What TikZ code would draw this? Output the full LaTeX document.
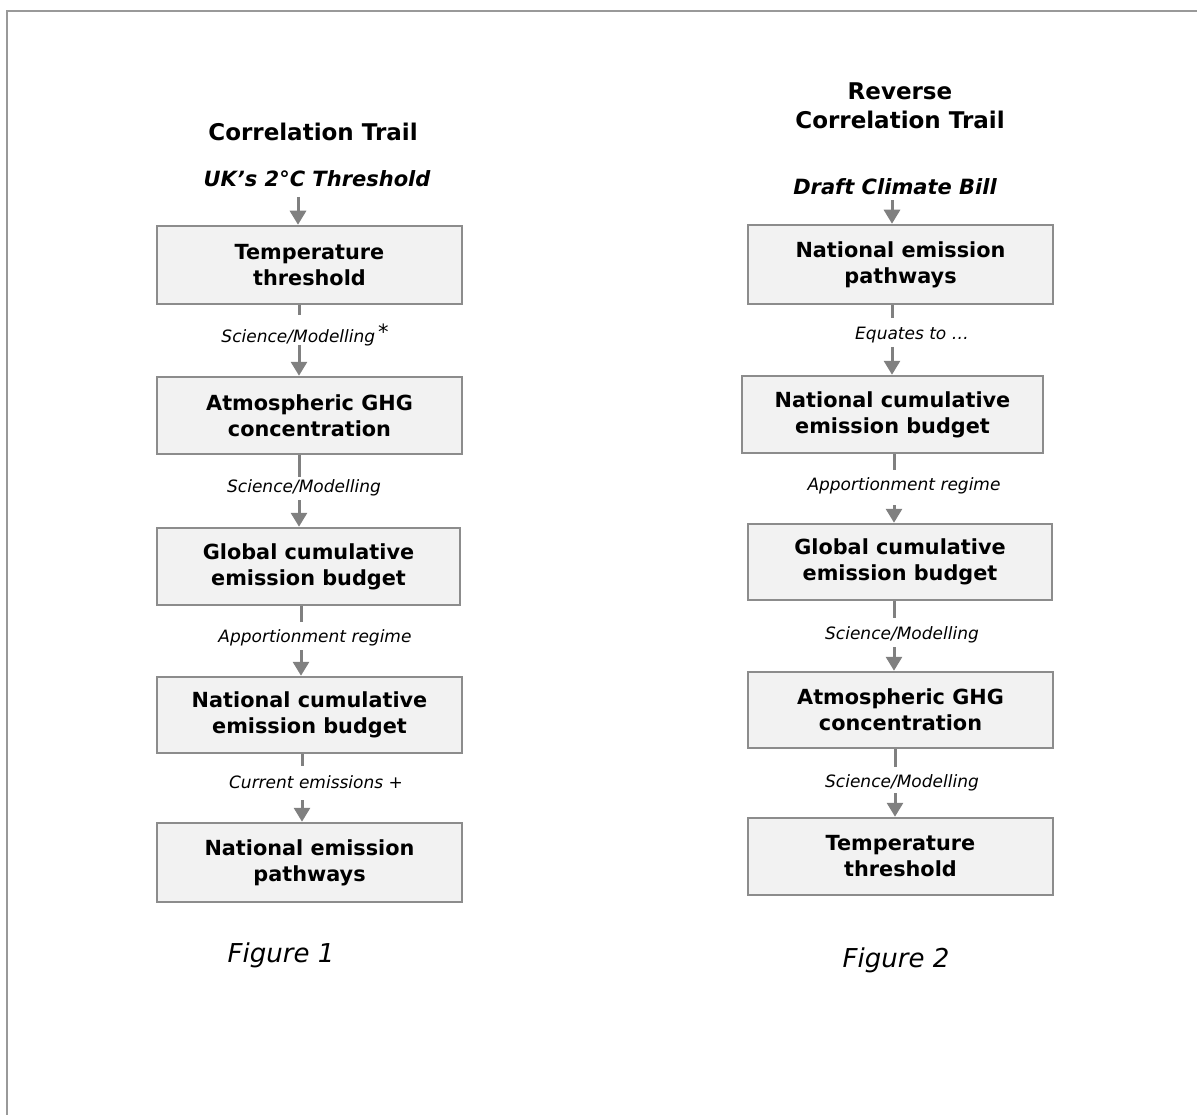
\documentclass[tikz,border=0pt]{standalone}
\usepackage{fontspec}
\setmainfont{DejaVu Sans}
\usetikzlibrary{arrows.meta}
\definecolor{boxfill}{HTML}{F2F2F2}
\definecolor{boxdraw}{HTML}{8C8C8C}
\definecolor{arrowgray}{HTML}{808080}
\definecolor{framegray}{HTML}{999999}
\begin{document}
\begin{tikzpicture}[x=1pt,y=-1pt,
  box/.style={draw=boxdraw, line width=2.5pt, fill=boxfill, align=center,
    font=\fontsize{20.8}{26}\selectfont\bfseries, inner sep=0pt},
  lab/.style={font=\fontsize{17}{20}\selectfont\itshape, inner sep=0pt},
  ttl/.style={font=\fontsize{23}{29}\selectfont\bfseries, align=center, inner sep=0pt},
  src/.style={font=\fontsize{21}{25}\selectfont\bfseries\itshape, inner sep=0pt},
  fig/.style={font=\fontsize{26}{30}\selectfont\itshape, inner sep=0pt},
  cline/.style={draw=arrowgray, line width=3pt},
  carrow/.style={color=arrowgray, line width=3pt, -{Triangle[length=14pt,width=16pt]}}
]
\useasboundingbox (0,0) rectangle (1197,1115);
\draw[framegray, line width=2.2pt] (7,1115) -- (7,11) -- (1197,11);

% ---------- Figure 1 ----------
\node[ttl] (titleL) at (313,132) {Correlation Trail};
\node[src] (ukT) at (317,179) {UK’s 2°C Threshold};
\coordinate (uStart) at (298,197);

\node[box, minimum width=305pt, minimum height=78pt] (L1) at (309.5,265) {Temperature\\threshold};
\node[box, minimum width=305pt, minimum height=77pt] (L2) at (309.5,415.5) {Atmospheric GHG\\concentration};
\node[box, minimum width=303pt, minimum height=77pt] (L3) at (308.5,566.5) {Global cumulative\\emission budget};
\node[box, minimum width=305pt, minimum height=76pt] (L4) at (309.5,715) {National cumulative\\emission budget};
\node[box, minimum width=305pt, minimum height=79pt] (L5) at (309.5,862.5) {National emission\\pathways};

\draw[carrow] (uStart) -- (L1.north -| uStart);

\coordinate (ls1) at (299,315);
\node[lab] (ll1) at (305,335) {Science/Modelling\,\raisebox{3pt}{\upshape\fontsize{21}{21}\selectfont *}};
\coordinate (le1) at (299,345);
\draw[cline] (L1.south -| ls1) -- (ls1);
\draw[carrow] (le1) -- (L2.north -| le1);

\coordinate (ls2) at (299,477);
\node[lab] (ll2) at (304,488) {Science/Modelling};
\coordinate (le2) at (299,500);
\draw[cline] (L2.south -| ls2) -- (ls2);
\draw[carrow] (le2) -- (L3.north -| le2);

\coordinate (ls3) at (301,622);
\node[lab] (ll3) at (315,638) {Apportionment regime};
\coordinate (le3) at (301,650);
\draw[cline] (L3.south -| ls3) -- (ls3);
\draw[carrow] (le3) -- (L4.north -| le3);

\coordinate (ls4) at (302,766);
\node[lab] (ll4) at (316,782) {Current emissions +};
\coordinate (le4) at (302,800);
\draw[cline] (L4.south -| ls4) -- (ls4);
\draw[carrow] (le4) -- (L5.north -| le4);

\node[fig] (fig1) at (281,955) {Figure 1};

% ---------- Figure 2 ----------
\node[ttl] (titleR) at (900,106) {Reverse\\Correlation Trail};
\node[src] (draftT) at (895,187) {Draft Climate Bill};
\coordinate (dStart) at (892,200);

\node[box, minimum width=305pt, minimum height=79pt] (R1) at (900.5,264.5) {National emission\\pathways};
\node[box, minimum width=301pt, minimum height=77pt] (R2) at (892.5,414.5) {National cumulative\\emission budget};
\node[box, minimum width=304pt, minimum height=76pt] (R3) at (900,562) {Global cumulative\\emission budget};
\node[box, minimum width=305pt, minimum height=76pt] (R4) at (900.5,710) {Atmospheric GHG\\concentration};
\node[box, minimum width=305pt, minimum height=77pt] (R5) at (900.5,856.5) {Temperature\\threshold};

\draw[carrow] (dStart) -- (R1.north -| dStart);

\coordinate (rs1) at (892,318);
\node[lab] (rl1) at (912,335) {Equates to …};
\coordinate (re1) at (892,347);
\draw[cline] (R1.south -| rs1) -- (rs1);
\draw[carrow] (re1) -- (R2.north -| re1);

\coordinate (rs2) at (894,470);
\node[lab] (rl2) at (904,486) {Apportionment regime};
\coordinate (re2) at (894,505);
\draw[cline] (R2.south -| rs2) -- (rs2);
\draw[carrow] (re2) -- (R3.north -| re2);

\coordinate (rs3) at (894,618);
\node[lab] (rl3) at (902,635) {Science/Modelling};
\coordinate (re3) at (894,647);
\draw[cline] (R3.south -| rs3) -- (rs3);
\draw[carrow] (re3) -- (R4.north -| re3);

\coordinate (rs4) at (895,767);
\node[lab] (rl4) at (902,783) {Science/Modelling};
\coordinate (re4) at (895,793);
\draw[cline] (R4.south -| rs4) -- (rs4);
\draw[carrow] (re4) -- (R5.north -| re4);

\node[fig] (fig2) at (896,960) {Figure 2};
\end{tikzpicture}
\end{document}
